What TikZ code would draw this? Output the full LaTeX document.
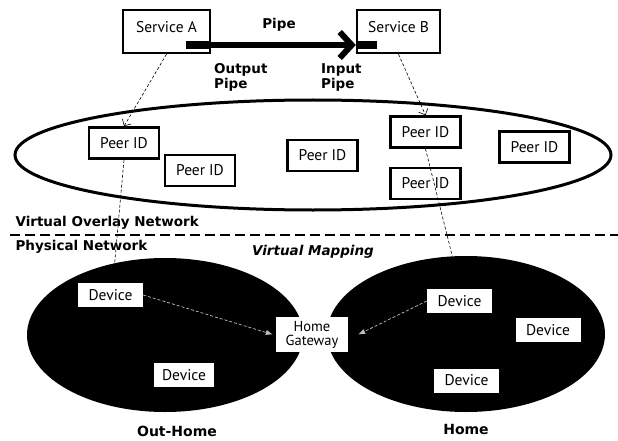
\documentclass[tikz,border=0pt]{standalone}
\usepackage{fontspec}
\setmainfont{PT Sans}
\newfontfamily\tagfont{DejaVu Sans}
\usepackage{tikz}
\usetikzlibrary{positioning,arrows.meta,shapes.geometric}
\tikzset{
  servicebox/.style={draw, line width=2.4pt, fill=white, minimum width=87pt,
                     minimum height=43pt, text depth=9pt, inner sep=0pt,
                     font=\fontsize{15.5}{17}\selectfont},
  pipeend/.style={fill=black, inner sep=0pt, minimum height=8pt},
  pipe/.style={line width=6pt, -{Straight Barb[length=12pt, width=26pt]}},
  peerbox/.style={draw, line width=2.6pt, fill=white, minimum width=70pt,
                  minimum height=31pt, inner sep=0pt, font=\fontsize{15.5}{17}\selectfont},
  devbox/.style={fill=white, minimum width=65pt, minimum height=24pt,
                 inner sep=0pt, font=\fontsize{15.5}{17}\selectfont},
  netarea/.style={ellipse, fill=black, inner sep=0pt},
  tag/.style={font=\tagfont\bfseries\fontsize{13.5}{15}\selectfont},
  maparrow/.style={densely dashed, line width=0.6pt, -{Straight Barb[length=5pt]}},
  mapline/.style={densely dashed, line width=0.6pt},
  linkarrow/.style={densely dashed, line width=0.7pt, gray!50, -{Latex[length=7pt]}},
}

\begin{document}
\begin{tikzpicture}[x=1pt, y=-1pt]
  \useasboundingbox (0,0) rectangle (618,441);

  % services and the pipe between them
  \node[servicebox] (SA) at (166.5,31.5) {Service A};
  \node[servicebox, minimum width=83pt] (SB) at (398.5,31.5) {Service B};
  \node[pipeend, minimum width=25pt, anchor=south east] (OP) at ([yshift=5pt]SA.south east) {};
  \node[pipeend, minimum width=21pt, anchor=south west] (IP) at ([yshift=5pt]SB.south west) {};
  \draw[pipe] (OP.east) -- (IP.west);
  \node[tag] (pipe) at (279,25) {Pipe};
  \node[tag, align=left, anchor=north west, inner sep=0pt] (outp) at (214,63) {Output\\Pipe};
  \node[tag, align=left, anchor=north west, inner sep=0pt] (inp) at (321,63) {Input\\Pipe};

  % overlay network
  \node[ellipse, draw, line width=3pt, minimum width=596pt, minimum height=110pt] (VO) at (313,155) {};
  \node[peerbox] (P1) at (124,143) {Peer ID};
  \node[peerbox] (P2) at (200,170.5) {Peer ID};
  \node[peerbox] (P3) at (322.5,155.5) {Peer ID};
  \node[peerbox] (P4) at (425.5,132) {Peer ID};
  \node[peerbox] (P5) at (425.5,183.5) {Peer ID};
  \node[peerbox] (P6) at (534.5,147) {Peer ID};

  % layer split
  \coordinate (divL) at (10,235);
  \coordinate (divR) at (618,235);
  \draw[line width=2pt, dash pattern=on 10pt off 5pt] (divL) -- (divR);
  \node[tag, anchor=west] (von) at (12,223) {Virtual Overlay Network};
  \node[tag, anchor=west] (phy) at (12,247) {Physical Network};
  \node[tag, font=\tagfont\bfseries\itshape\fontsize{13.5}{15}\selectfont] (vmap) at (313,252) {Virtual Mapping};

  % physical networks
  \node[netarea, minimum width=276pt, minimum height=154pt] (OH) at (165,335) {};
  \node[netarea, minimum width=278pt, minimum height=156pt] (HO) at (466,334) {};
  \node[devbox] (OD1) at (110.5,295) {Device};
  \node[devbox, minimum width=60pt] (OD2) at (184,375) {Device};
  \node[devbox, minimum width=72pt, minimum height=35pt, align=center,
        font=\fontsize{14.5}{14}\selectfont] (GW) at (312,334.5) {Home\\Gateway};
  \node[devbox] (HD1) at (459.5,301) {Device};
  \node[devbox] (HD2) at (548,330) {Device};
  \node[devbox] (HD3) at (466.5,380.5) {Device};
  \draw[linkarrow] (OD1.east) -- ([xshift=-3pt]GW.west);
  \draw[linkarrow] (HD1.west) -- ([xshift=10pt]GW.east);
  \node[tag, font=\tagfont\bfseries\fontsize{14}{16}\selectfont] (outh) at (177,431) {Out-Home};
  \node[tag, font=\tagfont\bfseries\fontsize{14}{16}\selectfont] (home) at (466,429) {Home};

  % mapping lines
  \draw[maparrow] (SA.south) -- (P1.north);
  \draw[maparrow] (SB.south) -- (P4.north);
  \draw[mapline] (P1.south) -- (OH.125);
  \draw[mapline] (P4.south) -- (HO.100);
\end{tikzpicture}
\end{document}
